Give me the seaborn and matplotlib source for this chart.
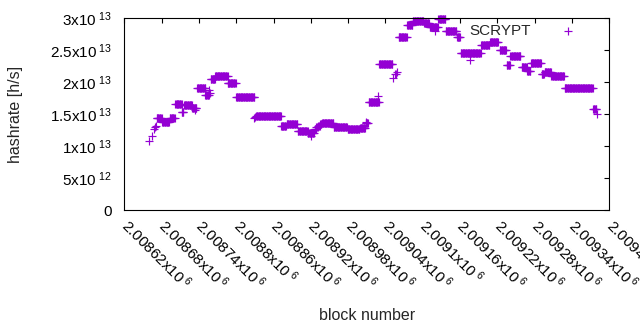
import numpy as np
import pandas as pd
import matplotlib
matplotlib.use("Agg")
import matplotlib.pyplot as plt
import seaborn as sns

# runs of blocks with the same hashrate (first block, last block, value)
run_start = [2008672, 2008681, 2008693, 2008702, 2008712, 2008716, 2008729, 2008737,
             2008750, 2008759, 2008766, 2008786, 2008800, 2008832, 2008872, 2008881,
             2008899, 2008915, 2008926, 2008929, 2008932, 2008935, 2008938, 2008957,
             2008979, 2008999, 2009008, 2009013, 2009030, 2009061, 2009075, 2009084,
             2009102, 2009111, 2009125, 2009137, 2009155, 2009161, 2009194, 2009208,
             2009224, 2009235, 2009241, 2009259, 2009268, 2009274, 2009291, 2009296,
             2009307, 2009328, 2009374]
run_end = [2008680, 2008692, 2008701, 2008712, 2008715, 2008729, 2008736, 2008750,
           2008756, 2008766, 2008786, 2008799, 2008829, 2008872, 2008880, 2008898,
           2008915, 2008925, 2008928, 2008931, 2008934, 2008937, 2008956, 2008978,
           2008998, 2009007, 2009012, 2009029, 2009051, 2009074, 2009083, 2009101,
           2009110, 2009124, 2009136, 2009154, 2009160, 2009193, 2009207, 2009221,
           2009234, 2009240, 2009257, 2009267, 2009273, 2009290, 2009295, 2009306,
           2009327, 2009373, 2009379]
run_value = [1.43e13, 1.38e13, 1.44e13, 1.65e13, 1.53e13, 1.64e13, 1.60e13, 1.90e13,
             1.80e13, 2.04e13, 2.09e13, 1.98e13, 1.76e13, 1.47e13, 1.31e13, 1.35e13,
             1.24e13, 1.20e13, 1.27e13, 1.30e13, 1.32e13, 1.34e13, 1.36e13, 1.29e13,
             1.26e13, 1.28e13, 1.36e13, 1.69e13, 2.28e13, 2.70e13, 2.89e13, 2.96e13,
             2.92e13, 2.86e13, 2.98e13, 2.79e13, 2.70e13, 2.46e13, 2.58e13, 2.62e13,
             2.50e13, 2.27e13, 2.41e13, 2.24e13, 2.17e13, 2.29e13, 2.13e13, 2.16e13,
             2.09e13, 1.90e13, 1.58e13]

# lone blocks
single_block = [2008660, 2008664, 2008667, 2008669, 2008671, 2008733, 2008757, 2008758,
                2008829, 2008831, 2008921, 2009009, 2009028, 2009052, 2009055, 2009057,
                2009059, 2009120, 2009176, 2009380]
single_value = [1.08e13, 1.15e13, 1.27e13, 1.30e13, 1.32e13, 1.56e13, 1.88e13, 1.83e13,
                1.43e13, 1.45e13, 1.16e13, 1.38e13, 1.78e13, 2.07e13, 2.12e13, 2.13e13,
                2.16e13, 2.79e13, 2.34e13, 1.50e13]

x_ticks = [2008620, 2008680, 2008740, 2008800, 2008860, 2008920, 2008980,
           2009040, 2009100, 2009160, 2009220, 2009280, 2009340, 2009400]
x_tick_labels = [r"2.00862x10$^{\ 6}$", r"2.00868x10$^{\ 6}$", r"2.00874x10$^{\ 6}$",
                 r"2.0088x10$^{\ 6}$", r"2.00886x10$^{\ 6}$", r"2.00892x10$^{\ 6}$",
                 r"2.00898x10$^{\ 6}$", r"2.00904x10$^{\ 6}$", r"2.0091x10$^{\ 6}$",
                 r"2.00916x10$^{\ 6}$", r"2.00922x10$^{\ 6}$", r"2.00928x10$^{\ 6}$",
                 r"2.00934x10$^{\ 6}$", r"2.0094x10$^{\ 6}$"]
y_ticks = [0, 5e12, 1e13, 1.5e13, 2e13, 2.5e13, 3e13]
y_tick_labels = ["0", r"5x10$^{\ 12}$", r"1x10$^{\ 13}$", r"1.5x10$^{\ 13}$",
                 r"2x10$^{\ 13}$", r"2.5x10$^{\ 13}$", r"3x10$^{\ 13}$"]

sns.set_theme(style="white")
plt.rcParams["font.family"] = ["Liberation Sans", "DejaVu Sans"]
plt.rcParams["mathtext.fontset"] = "custom"
plt.rcParams["mathtext.rm"] = "Liberation Sans"
plt.rcParams["mathtext.it"] = "Liberation Sans"

blocks = []
values = []
for s, e, v in zip(run_start, run_end, run_value):
    b = np.arange(s, e + 1)
    blocks.extend(b)
    values.extend([v] * len(b))
blocks.extend(single_block)
values.extend(single_value)
df = pd.DataFrame({"block": blocks, "hashrate": values})

fig = plt.figure(figsize=(6.4, 3.3), dpi=100)
ax = fig.add_axes([124.3 / 640, 1 - 210 / 330, 485 / 640, 192 / 330])

sns.scatterplot(data=df, x="block", y="hashrate", marker="+", color="#9400d3",
                s=28, linewidth=0.85, ax=ax, label="SCRYPT", clip_on=False)

ax.set_xlim(2008620, 2009400)
ax.set_ylim(0, 3e13)
ax.set_xticks(x_ticks)
ax.set_xticklabels(x_tick_labels, rotation=-45, ha="left", va="center",
                   rotation_mode="anchor")
ax.set_yticks(y_ticks)
ax.set_yticklabels(y_tick_labels)
ax.tick_params(direction="in", length=3.3, width=0.8, top=True, right=True,
               labelsize=11, colors="black")
ax.tick_params(axis="y", pad=9)
ax.tick_params(axis="x", pad=9)
for sp in ax.spines.values():
    sp.set_color("black")
    sp.set_linewidth(0.8)
ax.set_xlabel("")
ax.set_ylabel("")

fig.text(366.8 / 640, 1 - 315 / 330, "block number", ha="center", va="center",
         fontsize=11.5)
fig.text(16 / 640, 1 - 114 / 330, "hashrate [h/s]", ha="center", va="center",
         rotation=90, fontsize=11.5)

ax.legend(loc="upper right", bbox_to_anchor=(0.977, 1.0), markerfirst=False,
          frameon=False, handletextpad=0.8, handlelength=3.2, borderaxespad=0,
          fontsize=11)

fig.savefig("out.png", dpi=100)
